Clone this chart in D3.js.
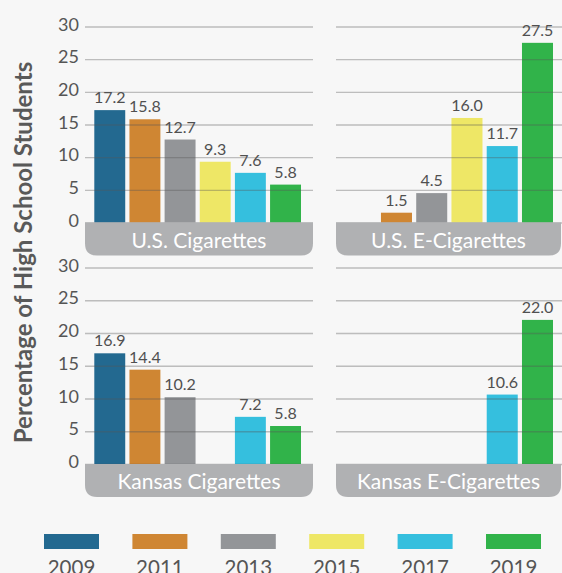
<!DOCTYPE html>
<html><head><meta charset="utf-8">
<script src="https://cdn.jsdelivr.net/npm/d3@7"></script>
<style>html,body{margin:0;padding:0;background:#f7f7f7;overflow:hidden}svg{display:block;font-family:Lato,"Open Sans",sans-serif}</style>
</head><body><svg width="562" height="573"></svg>
<script>
const years = ["2009","2011","2013","2015","2017","2019"];
const colors = ["#236990","#cf8633","#939598","#eee766","#35bfde","#31b34a"];
const usCig = [17.2,15.8,12.7,9.3,7.6,5.8];
const usECig = [null,1.5,4.5,16.0,11.7,27.5];
const ksCig = [16.9,14.4,10.2,null,7.2,5.8];
const ksECig = [null,null,null,null,10.6,22.0];
const panelTitles = ["U.S. Cigarettes","U.S. E-Cigarettes","Kansas Cigarettes","Kansas E-Cigarettes"];
const yTicks = [0,5,10,15,20,25,30];
const yTitle = "Percentage of High School Students";

const svg = d3.select("svg");
svg.append("rect").attr("width",562).attr("height",573).attr("fill","#f7f7f7");

const rows = [{y0:222.5,y1:26.5},{y0:464,y1:267.5}];
const cols = [{x0:85,x1:313,b0:94.3,b1:301,boxR:313,labels:true},{x0:336,x1:562,b0:345.7,b1:553,boxR:561,labels:false}];
const panels = [
  {data:usCig,r:0,c:0,t:panelTitles[0]},
  {data:usECig,r:0,c:1,t:panelTitles[1]},
  {data:ksCig,r:1,c:0,t:panelTitles[2]},
  {data:ksECig,r:1,c:1,t:panelTitles[3]}
];
const color = d3.scaleOrdinal().domain(years).range(colors);

panels.forEach(p=>{
  const R = rows[p.r], C = cols[p.c];
  const y = d3.scaleLinear().domain([0,30]).range([R.y0,R.y1]);
  const x = d3.scaleBand().domain(years).range([C.b0,C.b1]).paddingInner(0.12).paddingOuter(0);
  const g = svg.append("g");
  const rows_ = years.map((yr,i)=>({yr,v:p.data[i]})).filter(d=>d.v!=null);
  g.selectAll("rect.bar").data(rows_).join("rect").attr("class","bar")
    .attr("x",d=>x(d.yr)).attr("width",x.bandwidth())
    .attr("y",d=>y(d.v)).attr("height",d=>y(0)-y(d.v))
    .attr("fill",d=>color(d.yr));
  const axis = d3.axisLeft(y).tickValues(yTicks).tickSize(-(C.x1-C.x0)).tickPadding(6)
    .tickFormat(C.labels? d3.format("d") : ()=>"");
  const ag = svg.append("g").attr("transform",`translate(${C.x0},0)`).call(axis);
  ag.select(".domain").remove();
  ag.selectAll(".tick line").attr("stroke","#555").attr("stroke-opacity",0.36).attr("stroke-width",1.4);
  ag.selectAll(".tick text").attr("fill","#555").attr("font-size",18).attr("font-family","Lato").attr("dy","0.2em");
  g.selectAll("text.val").data(rows_).join("text").attr("class","val")
    .attr("x",d=>x(d.yr)+x.bandwidth()/2).attr("y",d=>y(d.v)-7)
    .attr("text-anchor","middle").attr("font-size",16).attr("fill","#505050")
    .text(d=>d3.format(".1f")(d.v));
  const bx0=C.x0, bx1=C.boxR, by0=R.y0, by1=R.y0+33, r=12;
  svg.append("path").attr("fill","#b0b1b3")
    .attr("d",`M${bx0},${by0}H${bx1}V${by1-r}Q${bx1},${by1} ${bx1-r},${by1}H${bx0+r}Q${bx0},${by1} ${bx0},${by1-r}Z`);
  svg.append("text").attr("x",(bx0+bx1)/2).attr("y",by0+25)
    .attr("text-anchor","middle").attr("fill","#fff").attr("font-size",21).text(p.t);
});

svg.append("text").attr("transform","translate(32,252.5) rotate(-90)")
  .attr("text-anchor","middle").attr("font-weight","bold").attr("font-size",24)
  .attr("fill","#595959").text(yTitle);

const lx = d3.scalePoint().domain(years).range([71.5,513.5]);
const lg = svg.append("g");
lg.selectAll("rect").data(years).join("rect")
  .attr("x",d=>lx(d)-27.5).attr("y",534).attr("width",55).attr("height",15).attr("fill",d=>color(d));
lg.selectAll("text").data(years).join("text")
  .attr("x",d=>lx(d)).attr("y",575).attr("text-anchor","middle")
  .attr("font-size",20.5).attr("fill","#555").text(d=>d);
</script></body></html>
